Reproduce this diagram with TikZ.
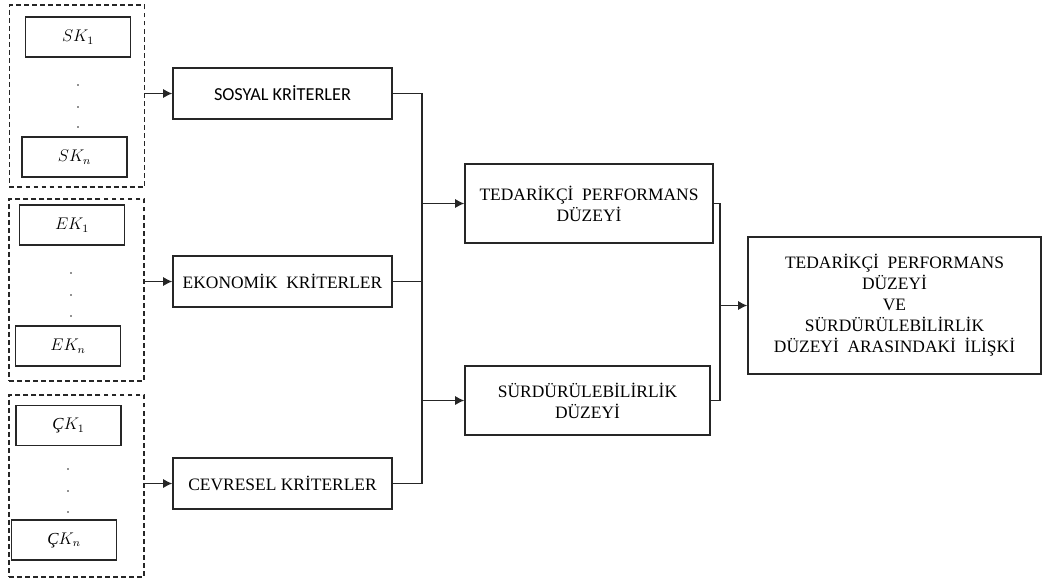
\documentclass[tikz,border=0pt]{standalone}
\usepackage{fontspec}
\setmainfont{Liberation Serif}
\newfontfamily\calibri{Carlito}
\usepackage{tikz}
\usetikzlibrary{arrows.meta}

\begin{document}
\fontsize{12.4pt}{14.9pt}\selectfont
\begin{tikzpicture}[x=0.025cm, y=-0.025cm,
        box/.style={draw=black!85, line width=0.95pt, align=center, inner sep=0pt},
        group/.style={draw=black!85, dash pattern=on 3.5pt off 2.2pt, line width=0.9pt, minimum width=3.375cm, minimum height=4.55cm},
        item/.style={box, minimum width=2.625cm, minimum height=1cm, font=\fontsize{12pt}{14pt}\selectfont},
        crit/.style={box, minimum width=5.475cm, minimum height=1.275cm},
        link/.style={draw=black!85, line width=0.95pt},
        arr/.style={link, -{Latex[length=6.5pt,width=6.5pt]}}]
        % Page
        \useasboundingbox[fill=white] (0,0) rectangle (1043,581);

        % Criteria groups
        \node[group] (grpS) at (77,96) {};
        \node[group] (grpE) at (76.5,290) {};
        \node[group] (grpC) at (76.5,486) {};

        % Sub-criteria
        \node[item] (sk1) at (78,37) {$SK_1$};
        \node[item] (skn) at (74.5,157) {$SK_n$};
        \node[item] (ek1) at (72,225) {$EK_1$};
        \node[item] (ekn) at (68,346) {$EK_n$};
        \node[item] (ck1) at (68.5,425.5) {\textit{Ç}$K_1$};
        \node[item] (ckn) at (64,540) {\textit{Ç}$K_n$};

        % Dots
        \foreach \x/\y in {78/85, 78/107, 78/127, 71/273, 71/295, 71/316, 68/469, 68/491, 68/512} {
            \fill[black!85] (\x,\y) circle (0.65pt);
        }

        % Main criteria
        \node[crit, font=\calibri\fontsize{13pt}{15pt}\selectfont] (sos) at (282.5,93.5) {SOSYAL KRİTERLER};
        \node[crit] (eko) at (282.5,281.5) {EKONOMİK\ \ KRİTERLER};
        \node[crit] (cev) at (282.5,483.5) {CEVRESEL KRİTERLER};

        % Levels
        \node[box, minimum width=6.2cm, minimum height=1.975cm] (ted) at (589,203.5)
            {TEDARİKÇİ\ \ PERFORMANS\\DÜZEYİ};
        \node[box, minimum width=6.125cm, minimum height=1.725cm] (sur) at (587.5,400.5)
            {SÜRDÜRÜLEBİLİRLİK\\DÜZEYİ};

        % Result
        \node[box, minimum width=7.325cm, minimum height=3.425cm] (res) at (894.5,305.5)
            {TEDARİKÇİ\ \ PERFORMANS\\DÜZEYİ\\VE\\SÜRDÜRÜLEBİLİRLİK\\DÜZEYİ\ \ ARASINDAKİ\ \ İLİŞKİ};

        % Group arrows
        \draw[arr] (grpS.east |- sos.west) -- (sos.west);
        \draw[arr] (grpE.east |- eko.west) -- (eko.west);
        \draw[arr] (grpC.east |- cev.west) -- (cev.west);

        % Left bus
        \coordinate (busL) at (422,0);
        \draw[link] (sos.east) -| (busL |- cev.east) -- (cev.east);
        \draw[link] (eko.east) -- (busL |- eko.east);
        \draw[arr] (busL |- ted.west) -- (ted.west);
        \draw[arr] (busL |- sur.west) -- (sur.west);

        % Right bus
        \coordinate (busR) at (720,0);
        \draw[link] (ted.east) -| (busR |- sur.east) -- (sur.east);
        \draw[arr] (busR |- res.west) -- (res.west);
    \end{tikzpicture}
\end{document}
